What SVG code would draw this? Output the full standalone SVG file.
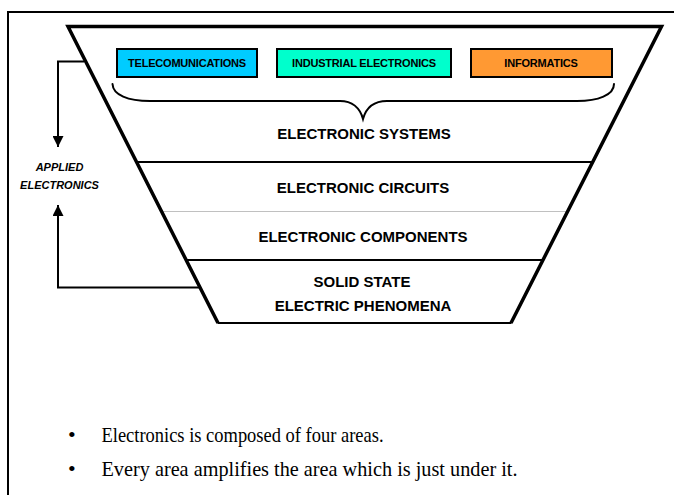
<svg xmlns="http://www.w3.org/2000/svg" width="674" height="495" viewBox="0 0 674 495">
  <style>
    .frame { fill: none; stroke: #000; stroke-width: 2; }
    .edge { fill: none; stroke: #000; stroke-width: 3.5; stroke-linejoin: miter; }
    .sep { fill: none; stroke: #000; stroke-width: 2; }
    .sep-thin { fill: none; stroke: #c0c0c0; stroke-width: 1; }
    .box { stroke: #000; stroke-width: 2; }
    .wire { fill: none; stroke: #000; stroke-width: 2; }
    .brace { fill: none; stroke: #000; stroke-width: 2; stroke-linecap: round; }
    .lbl { font-family: "Liberation Sans", Arial, sans-serif; font-weight: bold; fill: #000; text-anchor: middle; }
    .box-lbl { font-size: 11px; letter-spacing: -0.2px; }
    .layer-lbl { font-size: 15px; }
    .side-lbl { font-size: 11px; font-style: italic; }
    .bullet { font-family: "Liberation Serif", "Times New Roman", serif; font-size: 22px; fill: #000; }
  </style>
  <defs>
    <marker id="arrow" viewBox="0 0 10 10" refX="10" refY="5" markerWidth="5.5" markerHeight="5.5" orient="auto" markerUnits="strokeWidth">
      <path d="M0,0 L10,5 L0,10 Z" fill="#000"/>
    </marker>
  </defs>

  <!-- page frame (open at right and bottom) -->
  <path class="frame" d="M8,495 V12 H674"/>

  <!-- funnel of layers -->
  <g id="funnel">
    <path class="sep" d="M136.7,162 H592.3"/>
    <path class="sep-thin" d="M161.5,211.5 H567.5"/>
    <path class="sep" d="M186,260 H543"/>
    <path class="sep" d="M217.5,323 H511.5"/>
    <path class="edge" d="M218,323 L68,26.5 H661.5 L511,323"/>
  </g>

  <g id="layer-systems">
    <text class="lbl layer-lbl" x="364" y="138.5">ELECTRONIC SYSTEMS</text>
  </g>
  <g id="layer-circuits">
    <text class="lbl layer-lbl" x="363" y="193">ELECTRONIC CIRCUITS</text>
  </g>
  <g id="layer-components">
    <text class="lbl layer-lbl" x="363" y="241.5">ELECTRONIC COMPONENTS</text>
  </g>
  <g id="layer-solid-state">
    <text class="lbl layer-lbl" x="362" y="287">SOLID STATE</text>
    <text class="lbl layer-lbl" x="363" y="311">ELECTRIC PHENOMENA</text>
  </g>

  <!-- application areas -->
  <g id="telecom">
    <rect class="box" x="117" y="49" width="140" height="28" fill="#00CCFF"/>
    <text class="lbl box-lbl" x="187" y="67">TELECOMUNICATIONS</text>
  </g>
  <g id="industrial">
    <rect class="box" x="277" y="49" width="174" height="28" fill="#00FFCC"/>
    <text class="lbl box-lbl" x="364" y="67">INDUSTRIAL ELECTRONICS</text>
  </g>
  <g id="informatics">
    <rect class="box" x="471" y="49" width="141" height="28" fill="#FF9933"/>
    <text class="lbl box-lbl" x="541" y="67">INFORMATICS</text>
  </g>

  <!-- brace grouping the areas -->
  <path class="brace" d="M112.5,84 C113,95 128,101 150,101 H340 C352,101 360,108 363,119 C366,108 374,101 387,101 H577 C598,101 614,95 614,84"/>

  <g id="applied">
    <text class="lbl side-lbl" x="59.5" y="171">APPLIED</text>
    <text class="lbl side-lbl" x="59.5" y="189">ELECTRONICS</text>
  </g>

  <g id="connectors">
    <path class="wire" d="M84,61.5 H58 V147" marker-end="url(#arrow)"/>
    <path class="wire" d="M200,287.5 H58 V205" marker-end="url(#arrow)"/>
  </g>

  <!-- notes -->
  <g id="notes">
    <text class="bullet" x="68" y="442">•</text>
    <text class="bullet" x="101.5" y="442" textLength="282" lengthAdjust="spacingAndGlyphs">Electronics is composed of four areas.</text>
    <text class="bullet" x="68" y="476">•</text>
    <text class="bullet" x="101.5" y="476" textLength="416" lengthAdjust="spacingAndGlyphs">Every area amplifies the area which is just under it.</text>
  </g>
</svg>
